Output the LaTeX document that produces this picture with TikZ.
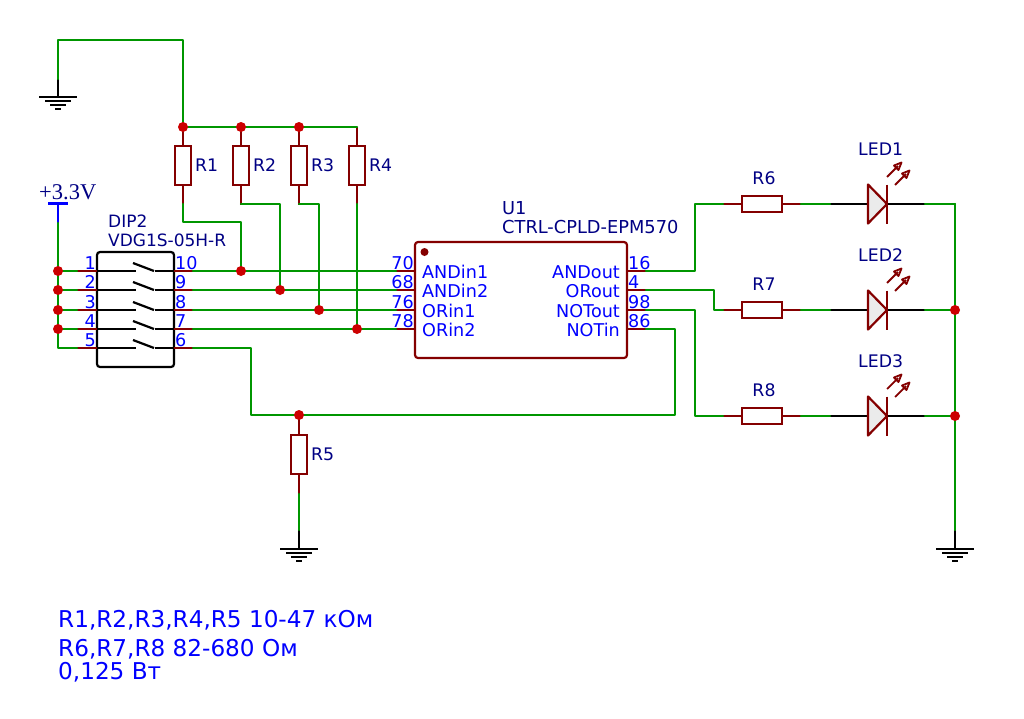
\documentclass[tikz,border=0pt]{standalone}
\usepackage{fontspec}
\setmainfont{DejaVu Sans}
\newfontfamily\serifv{Liberation Serif}
\definecolor{wirec}{RGB}{0,150,0}
\definecolor{symc}{RGB}{132,0,0}
\definecolor{refc}{RGB}{0,0,132}
\definecolor{pinc}{RGB}{0,0,255}
\definecolor{junc}{RGB}{204,0,0}
\definecolor{ledfill}{RGB}{235,235,235}
\tikzset{
  wire/.style={draw=wirec,line width=2.2pt,line cap=round,line join=round},
  sym/.style={draw=symc,line width=2.2pt,line join=round},
  blk/.style={draw=black,line width=2.2pt,line join=round},
  res/.style={draw=symc,fill=white,line width=2.2pt,rectangle,inner sep=0pt,minimum width=#1},
  vres/.style={res=16pt,minimum height=39pt},
  hres/.style={res=40pt,minimum height=16pt},
  jn/.style={circle,fill=junc,inner sep=0pt,minimum size=10pt},
  pinnum/.style={text=pinc,font=\fontsize{17.6}{17.6}\selectfont,inner sep=0pt,anchor=base},
  sig/.style={text=pinc,font=\fontsize{17.6}{17.6}\selectfont,inner sep=0pt,anchor=base west},
  sigr/.style={text=pinc,font=\fontsize{17.6}{17.6}\selectfont,inner sep=0pt,anchor=base east},
  ref/.style={text=refc,font=\fontsize{17.3}{17.3}\selectfont,inner sep=0pt,anchor=base west},
  dipref/.style={text=refc,font=\fontsize{17}{17}\selectfont,inner sep=0pt,anchor=base west},
  uref/.style={text=refc,font=\fontsize{17.8}{17.8}\selectfont,inner sep=0pt,anchor=base west},
  note/.style={text=pinc,font=\fontsize{23.15}{23.15}\selectfont,inner sep=0pt,anchor=base west},
}
\begin{document}
\begin{tikzpicture}[x=1pt,y=-1pt]
\useasboundingbox (0,0) rectangle (1024,718);
\fill[white] (0,0) rectangle (1024,718);
% coordinates
\coordinate (g1) at (58,97);
\coordinate (g1w) at (58,79);
\coordinate (g2) at (299,549);
\coordinate (g2w) at (299,530);
\coordinate (g3) at (955,549);
\coordinate (g3w) at (955,530);
% grounds
\foreach \g/\w in {g1/g1w,g2/g2w,g3/g3w}{
  \draw[blk] (\w) -- (\g);
  \draw[blk] ([xshift=-19pt]\g) -- ([xshift=19pt]\g);
  \draw[blk] ([xshift=-13pt,yshift=-4pt]\g) -- ([xshift=13pt,yshift=-4pt]\g);
  \draw[blk] ([xshift=-8pt,yshift=-8pt]\g) -- ([xshift=8pt,yshift=-8pt]\g);
  \draw[blk] ([xshift=-3pt,yshift=-12pt]\g) -- ([xshift=3pt,yshift=-12pt]\g);
}
% vertical resistors
\foreach \n/\x/\y in {R1/183/165.5,R2/241/165.5,R3/299/165.5,R4/357/165.5,R5/299/454.5}{
  \draw[sym] (\x,\y-39) -- (\x,\y+39);
  \node[vres] (\n) at (\x,\y) {};
  \node[ref] at (\x+12,\y+6) {\n};
}
% horizontal resistors
\foreach \n/\y in {R6/204,R7/310,R8/416}{
  \draw[sym] (723,\y) -- (801,\y);
  \node[hres] (\n) at (762,\y) {};
  \node[ref,anchor=base] at (764,\y-20) {\n};
}
% LEDs
\foreach \n/\y in {LED1/204,LED2/310,LED3/416}{
  \draw[blk] (830,\y) -- (868,\y);
  \draw[blk] (887,\y) -- (925,\y);
  \draw[sym,fill=ledfill] (868,\y-19.5) -- (887,\y) -- (868,\y+19.5) -- cycle;
  \draw[sym] (887,\y-19.5) -- (887,\y+19.5);
  \node[ref] (\n) at (858,\y-49) {\n};
  \draw[sym,line width=1.8pt] (887,\y-27) -- (898,\y-38);
  \draw[sym,line width=1.8pt] (901.5,\y-41.5) -- (894,\y-38.5) -- (898.5,\y-34) -- cycle;
  \draw[sym,line width=1.8pt] (895,\y-19) -- (906,\y-30);
  \draw[sym,line width=1.8pt] (909.5,\y-33.5) -- (902,\y-30.5) -- (906.5,\y-26) -- cycle;
}
% DIP
\draw[draw=black,line width=2.2pt,fill=white,rounded corners=3pt] (97,252) rectangle (174,367);
\node[dipref] (dipa) at (108,227) {DIP2};
\node[dipref] (dipb) at (108,246) {VDG1S-05H-R};
\foreach \y/\l/\r in {271/1/10,290/2/9,310/3/8,329/4/7,348/5/6}{
  \draw[sym] (77,\y) -- (97,\y);
  \draw[sym] (174,\y) -- (193,\y);
  \draw[blk] (97,\y) -- (136,\y);
  \draw[blk] (155,\y) -- (174,\y);
  \draw[blk] (133,\y-8) -- (154,\y);
  \node[pinnum,anchor=base east] at (96,\y-2) {\l};
  \node[pinnum,anchor=base west] at (175,\y-2) {\r};
}
% U1
\node[uref] (u1a) at (502,214) {U1};
\node[uref] (u1b) at (502,233) {CTRL-CPLD-EPM570};
\foreach \y/\l/\ln/\r/\rn in {271/70/ANDin1/16/ANDout,290/68/ANDin2/4/ORout,310/76/ORin1/98/NOTout,329/78/ORin2/86/NOTin}{
  \draw[sym] (396,\y) -- (415,\y);
  \draw[sym] (627,\y) -- (646,\y);
  \node[pinnum,anchor=base east] at (414,\y-2) {\l};
  \node[pinnum,anchor=base west] at (628,\y-2) {\r};
}
\draw[sym,fill=white,rounded corners=3pt] (415,242) rectangle (627,358);
\fill[symc] (424.5,252) circle (4pt);
\foreach \y/\l/\r in {271/ANDin1/ANDout,290/ANDin2/ORout,310/ORin1/NOTout,329/ORin2/NOTin}{
  \node[sig] at (422,\y+7) {\l};
  \node[sigr] at (620,\y+7) {\r};
}
% power
\draw[draw=pinc,line width=2.2pt] (48,203.5) -- (68,203.5);
\draw[draw=pinc,line width=2.2pt] (58,203.5) -- (58,223);
\node[text=refc,font=\serifv\fontsize{22.5}{22.5}\selectfont,inner sep=0pt,anchor=base west] (pw) at (39,199) {+3.3V};
% wires
\draw[wire] (R1.north |- 0,127) -- (183,40) -- (58,40) -- (g1w);
\draw[wire] (183,127) -- (357,127);
\draw[wire] (183,204) -- (183,222) -- (241,222) -- (241,271);
\draw[wire] (241,204) -- (280,204) -- (280,290);
\draw[wire] (299,204) -- (319,204) -- (319,310);
\draw[wire] (357,204) -- (357,329);
\draw[wire] (58,223) -- (58,348) -- (77,348);
\foreach \y in {271,290,310,329}{
  \draw[wire] (58,\y) -- (77,\y);
  \draw[wire] (193,\y) -- (396,\y);
}
\draw[wire] (193,348) -- (251,348) -- (251,415) -- (675,415) -- (675,329) -- (646,329);
\draw[wire] (299,494) -- (g2w);
\draw[wire] (646,271) -- (695,271) -- (695,204) -- (723,204);
\draw[wire] (646,290) -- (714,290) -- (714,310) -- (723,310);
\draw[wire] (646,310) -- (695,310) -- (695,416) -- (723,416);
\foreach \y in {204,310,416}{
  \draw[wire] (801,\y) -- (830,\y);
  \draw[wire] (925,\y) -- (955,\y);
}
\draw[wire] (955,204) -- (g3w);
% junctions
\foreach \x/\y in {183/127,241/127,299/127,58/271,58/290,58/310,58/329,241/271,280/290,319/310,357/329,299/415,955/310,955/416}{
  \node[jn] at (\x,\y) {};
}
% notes
\node[note] (n1) at (58,627) {R1,R2,R3,R4,R5 10-47 кОм};
\node[note] (n2) at (58,656) {R6,R7,R8 82-680 Ом};
\node[note] (n3) at (58,679) {0,125 Вт};
\end{tikzpicture}
\end{document}
